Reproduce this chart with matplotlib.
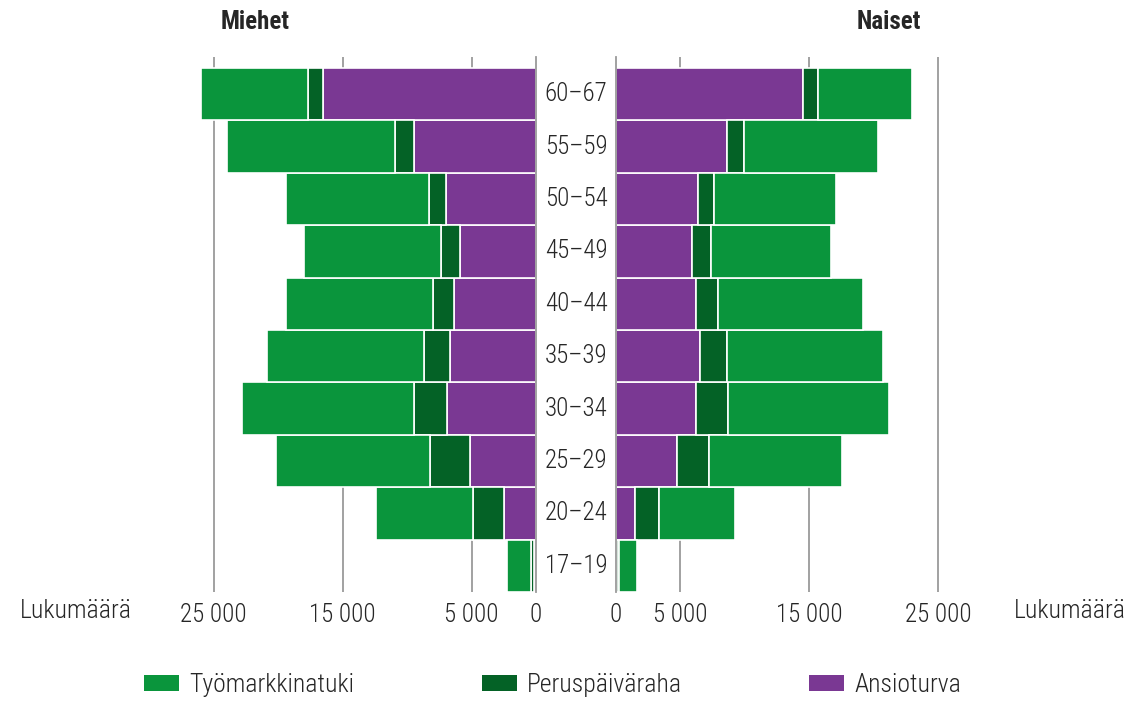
import matplotlib
matplotlib.use("Agg")
import matplotlib.pyplot as plt
from matplotlib.patches import Patch
from matplotlib.font_manager import fontManager

# pick a narrow sans if one is installed
names = {f.name for f in fontManager.ttflist}
STRETCH = "normal"
FAM = None
for cand in ["Roboto Condensed", "Open Sans Condensed", "Liberation Sans Narrow",
             "Noto Sans Condensed"]:
    if cand in names:
        FAM = cand
        break
if FAM is None:
    if any(f.name == "DejaVu Sans" and f.stretch in ("condensed", "semi-condensed")
           for f in fontManager.ttflist):
        FAM, STRETCH = "DejaVu Sans", "condensed"
    else:
        FAM = "Roboto"
plt.rcParams["font.family"] = [FAM, "DejaVu Sans"]
plt.rcParams["font.stretch"] = STRETCH
plt.rcParams["font.weight"] = "light"

ages = ["17–19", "20–24", "25–29", "30–34", "35–39",
        "40–44", "45–49", "50–54", "55–59", "60–67"]

# values in persons
men_ansio = [150, 2500, 5100, 6900, 6700, 6400, 5900, 7000, 9500, 16500]
men_perus = [200, 2400, 3100, 2600, 2000, 1600, 1500, 1300, 1400, 1200]
men_tmt = [1900, 7500, 12000, 13300, 12200, 11400, 10600, 11100, 13100, 8300]

women_ansio = [50, 1500, 4700, 6200, 6500, 6200, 5900, 6400, 8600, 14500]
women_perus = [200, 1800, 2500, 2500, 2100, 1700, 1500, 1200, 1300, 1150]
women_tmt = [1350, 5900, 10300, 12500, 12100, 11300, 9300, 9500, 10400, 7300]

C_TMT = "#0a953c"
C_PER = "#046226"
C_ANS = "#7a3893"
GRID = "#9a9a9a"
TXT = "#262626"

W, H = 1132, 701
fig = plt.figure(figsize=(W / 100, H / 100), dpi=100)


def rect(x0, x1, y0=57, y1=592):
    return [x0 / W, 1 - y1 / H, (x1 - x0) / W, (y1 - y0) / H]


axL = fig.add_axes(rect(190, 536))
axR = fig.add_axes(rect(616, 950))
ypos = list(range(len(ages)))
top = len(ages) - 0.5 + 11 / 52.5

for ax, a, p, t in [(axL, men_ansio, men_perus, men_tmt),
                    (axR, women_ansio, women_perus, women_tmt)]:
    left_t = [x + y for x, y in zip(a, p)]
    kw = dict(height=1.0, edgecolor="white", linewidth=1.2, zorder=2)
    ax.barh(ypos, a, color=C_ANS, **kw)
    ax.barh(ypos, p, left=a, color=C_PER, **kw)
    ax.barh(ypos, t, left=left_t, color=C_TMT, **kw)
    for g in [5000, 15000, 25000]:
        ax.axvline(g, color=GRID, lw=1.3, zorder=0)
    ax.set_ylim(-0.5, top)
    ax.set_yticks([])
    for s in ax.spines.values():
        s.set_visible(False)
    ax.set_xticks([0, 5000, 15000, 25000])
    ax.set_xticklabels(["0", "5 000", "15 000", "25 000"])
    ax.tick_params(axis="x", length=0, pad=8, labelsize=18, labelcolor=TXT)

axL.set_xlim(346 / 12.89 * 1000, 0)
axR.set_xlim(0, 334 / 12.89 * 1000)
for ax, side in [(axL, "right"), (axR, "left")]:
    ax.spines[side].set_visible(True)
    ax.spines[side].set_color(GRID)
    ax.spines[side].set_linewidth(1.3)

for i, lab in enumerate(ages):
    axL.text((576 - 190) / 346, i, lab, transform=axL.get_yaxis_transform(),
             ha="center", va="center", fontsize=18, color=TXT)

fig.text(221 / W, 1 - 22 / H, "Miehet", fontsize=18, fontweight="bold",
         color=TXT, ha="left", va="center")
fig.text(921 / W, 1 - 22 / H, "Naiset", fontsize=18, fontweight="bold",
         color=TXT, ha="right", va="center")
fig.text(20 / W, 1 - 611 / H, "Lukumäärä", fontsize=18.5, color=TXT,
         ha="left", va="center")
fig.text(1126 / W, 1 - 611 / H, "Lukumäärä", fontsize=18.5, color=TXT,
         ha="right", va="center")

handles = [Patch(facecolor=C_TMT, label="Työmarkkinatuki"),
           Patch(facecolor=C_PER, label="Peruspäiväraha"),
           Patch(facecolor=C_ANS, label="Ansioturva")]
fig.legend(handles=handles, loc="center", bbox_to_anchor=(553 / W, 1 - 685 / H),
           ncol=3, frameon=False, fontsize=18.5, handlelength=1.36,
           handleheight=0.6, handletextpad=0.4, columnspacing=4.95,
           labelcolor=TXT)

fig.savefig("out.png", dpi=100)
